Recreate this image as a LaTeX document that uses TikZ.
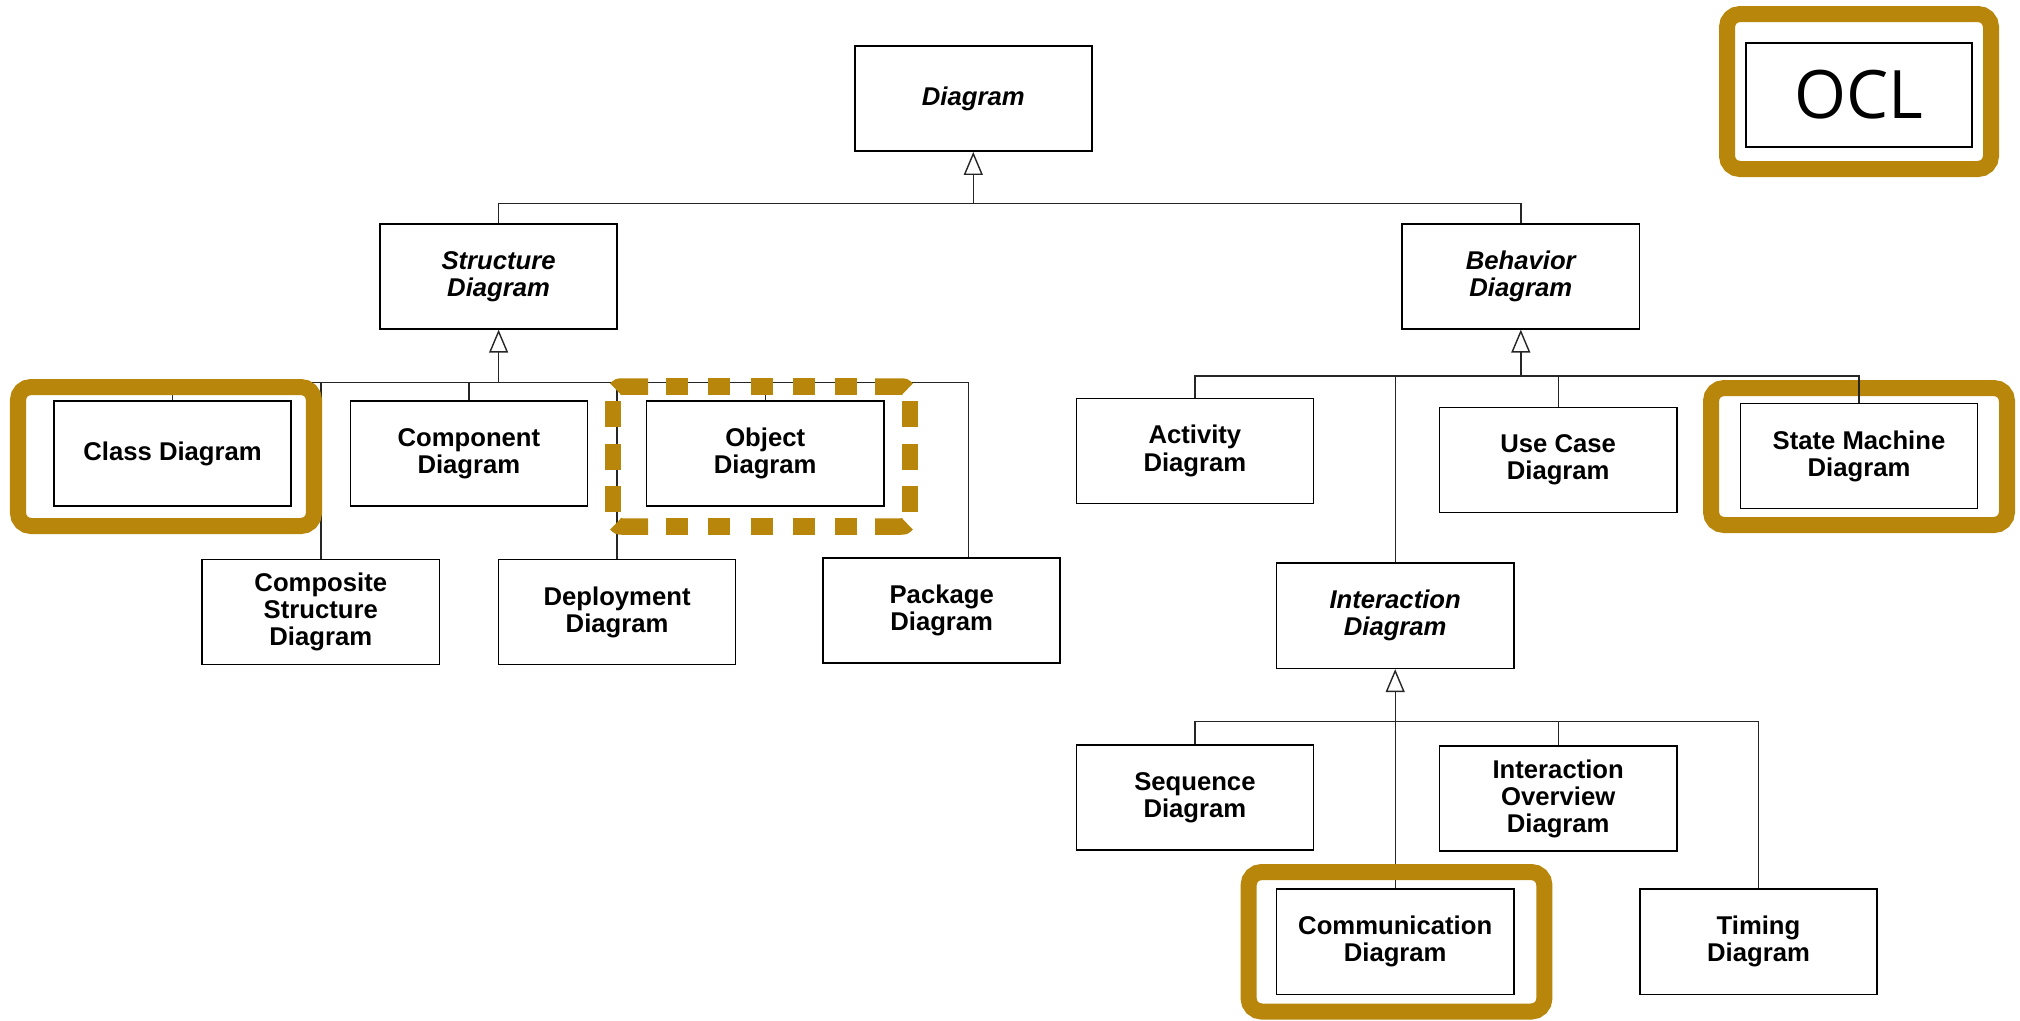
\documentclass[tikz,border=0pt]{standalone}
\usepackage{fontspec}
\setmainfont{Liberation Sans}
\newfontfamily\oclfont{Open Sans}
\usetikzlibrary{arrows.meta}
\definecolor{hlgold}{HTML}{B8860B}
\begin{document}
\begin{tikzpicture}[x=0.01cm,y=-0.01cm,
  umlbox/.style={draw=black, line width=0.45pt, fill=white,
    minimum width=2.37cm, minimum height=1.05cm, inner sep=0pt,
    align=center, font=\bfseries\fontsize{7.3}{7.7}\selectfont},
  abstractbox/.style={umlbox, font=\bfseries\itshape\fontsize{7.3}{7.7}\selectfont},
  conn/.style={draw=black!85, line width=0.4pt},
  gen/.style={conn, -{Triangle[fill=white,length=0.23cm,width=0.19cm]}},
  ring/.style={draw=hlgold, line width=0.16cm, rounded corners=0.13cm},
  dashring/.style={draw=hlgold, line width=0.165cm, line cap=butt}
]
\useasboundingbox (0,0) rectangle (2020,1020);

% ---------- classifiers ----------
\node[abstractbox] (diagram)   at (973.3,98.6)   {Diagram};
\node[abstractbox] (structure) at (498.6,276.3)  {Structure\\Diagram};
\node[abstractbox] (behavior)  at (1520.8,276.3) {Behavior\\Diagram};

\node[umlbox] (class)      at (172.6,453.5) {Class Diagram};
\node[umlbox] (component)  at (468.9,453.5) {Component\\Diagram};
\node[umlbox] (object)     at (765.2,453.5) {Object\\Diagram};
\node[umlbox] (composite)  at (320.8,612.0) {Composite\\Structure\\Diagram};
\node[umlbox] (deployment) at (617.1,612.0) {Deployment\\Diagram};
\node[umlbox] (package)    at (941.7,610.7) {Package\\Diagram};

\node[umlbox] (activity)    at (1194.9,450.9) {Activity\\Diagram};
\node[umlbox] (usecase)     at (1558.2,459.9) {Use Case\\Diagram};
\node[umlbox] (statemach)   at (1859.0,456.0) {State Machine\\Diagram};
\node[abstractbox] (interaction) at (1395.2,615.8) {Interaction\\Diagram};

\node[umlbox] (sequence)  at (1194.9,797.5) {Sequence\\Diagram};
\node[umlbox] (overview)  at (1558.2,798.7) {Interaction\\Overview\\Diagram};
\node[umlbox] (communic)  at (1395.2,941.8) {Communication\\Diagram};
\node[umlbox] (timing)    at (1758.5,941.8) {Timing\\Diagram};

\node[draw=black, line width=0.75pt, fill=white, minimum width=2.26cm,
      minimum height=1.04cm, inner sep=0pt, font=\oclfont\fontsize{19}{22}\selectfont]
      (ocl) at (1859,95) {OCL};

% ---------- generalization trees ----------
\coordinate (tbus) at (973.3,203.5);
\draw[conn] (structure.north) |- (tbus) -| (behavior.north);
\draw[gen] (tbus) -- (diagram.south);

\coordinate (sbus) at (498.6,382.6);
\coordinate (pkgtop) at ([xshift=0.27cm]package.north);
\draw[conn] (class.north) |- (sbus) -| (pkgtop);
\draw[conn] (composite.north) -- (composite.north |- sbus);
\draw[conn] (component.north) -- (component.north |- sbus);
\draw[conn] (deployment.north) -- (deployment.north |- sbus);
\draw[conn] (object.north) -- (object.north |- sbus);
\draw[gen] (sbus) -- (structure.south);

\coordinate (bbus) at (1520.8,376);
\draw[conn] (activity.north) |- (bbus);
\draw[conn] (bbus) -| (statemach.north);
\draw[conn] (interaction.north) -- (interaction.north |- bbus);
\draw[conn] (usecase.north) -- (usecase.north |- bbus);
\draw[gen] (bbus) -- (behavior.south);

\coordinate (ibus) at (1395.2,721.5);
\draw[conn] (sequence.north) |- (ibus) -| (timing.north);
\draw[conn] (communic.north) -- (ibus);
\draw[conn] (overview.north) -- (overview.north |- ibus);
\draw[gen] (ibus) -- (interaction.south);

% ---------- highlight rings ----------
\draw[ring] (18,387) rectangle (314,526);
\draw[ring] (1711,388) rectangle (2007,525);
\draw[ring] (1248.6,872) rectangle (1544.4,1011.5);
\draw[ring] (1727,14) rectangle (1991,169);
\draw[conn] (statemach.north) -- (statemach.north |- bbus);

% dashed ring round the object diagram
\draw[dashring] (615.9,389.4) .. controls (618.8,386.5) .. (623,386.5) -- (648,386.5);
\draw[dashring] (875,386.5) -- (900,386.5) .. controls (904.2,386.5) .. (907.1,389.4);
\draw[dashring] (615.9,523.6) .. controls (618.8,526.5) .. (623,526.5) -- (648,526.5);
\draw[dashring] (875,526.5) -- (900,526.5) .. controls (904.2,526.5) .. (907.1,523.6);
\foreach \cx in {676.9,719.2,761.5,803.8,846.1} {
  \draw[dashring] (\cx-11,386.5) -- (\cx+11,386.5);
  \draw[dashring] (\cx-11,526.5) -- (\cx+11,526.5);
}
\foreach \cy in {414,456.5,499} {
  \draw[dashring] (613,\cy-13) -- (613,\cy+13);
  \draw[dashring] (910,\cy-13) -- (910,\cy+13);
}
\end{tikzpicture}
\end{document}
